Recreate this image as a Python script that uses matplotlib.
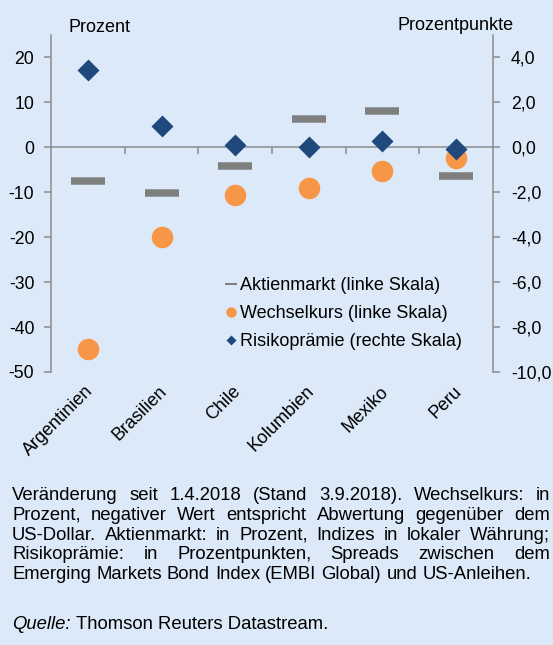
import matplotlib
matplotlib.use('Agg')
import matplotlib.pyplot as plt
from matplotlib.lines import Line2D
from matplotlib.ticker import FuncFormatter
from matplotlib.transforms import blended_transform_factory

# ---- data ----
countries = ['Argentinien', 'Brasilien', 'Chile', 'Kolumbien', 'Mexiko', 'Peru']
aktienmarkt = [-7.6, -10.1, -4.1, 6.4, 8.1, -6.4]          # left scale, %
wechselkurs = [-44.9, -19.9, -10.7, -9.0, -5.2, -2.4]      # left scale, %
risikopraemie = [3.45, 0.95, 0.10, 0.01, 0.27, -0.09]      # right scale, pp
left_ticks = [-50, -40, -30, -20, -10, 0, 10, 20]
right_ticks = [-10, -8, -6, -4, -2, 0, 2, 4]
legend_labels = ['Aktienmarkt (linke Skala)', 'Wechselkurs (linke Skala)',
                 'Risikoprämie (rechte Skala)']
foot_lines = [
    'Veränderung seit 1.4.2018 (Stand 3.9.2018). Wechselkurs: in',
    'Prozent, negativer Wert entspricht Abwertung gegenüber dem',
    'US-Dollar. Aktienmarkt: in Prozent, Indizes in lokaler Währung;',
    'Risikoprämie: in Prozentpunkten, Spreads zwischen dem',
    'Emerging Markets Bond Index (EMBI Global) und US-Anleihen.',
]
source_label = 'Quelle:'
source_text = 'Thomson Reuters Datastream.'

plt.rcParams['font.family'] = ['Liberation Sans', 'DejaVu Sans']
plt.rcParams['axes.unicode_minus'] = False

BG = '#DCE9F8'
GRAY = '#7F7F7F'
SPINE = '#8C8C8C'
ORANGE = '#F79646'
NAVY = '#1F497D'
W, H = 553, 645
FS = 13
FST = 12.7
FSN = 13.3

fig = plt.figure(figsize=(W / 100, H / 100), dpi=100, facecolor=BG)
ax = fig.add_axes([51 / W, 1 - 372 / H, (493 - 51) / W, (372 - 35) / H])
ax.set_facecolor(BG)
ax.set_xlim(-0.5, len(countries) - 0.5)
ax.set_ylim(-50, 25)
ax2 = ax.twinx()
ax2.set_ylim(-10, 5)

x = list(range(len(countries)))
ax.plot(x, aktienmarkt, ls='none', marker='_', ms=25, mew=5.4, color=GRAY, zorder=3)
ax.plot(x, wechselkurs, ls='none', marker='o', ms=15.5, mec='none', color=ORANGE, zorder=3)
ax2.plot(x, risikopraemie, ls='none', marker='D', ms=11.6, mec='none', color=NAVY, zorder=4)

# spines
for s in ['top', 'right']:
    ax.spines[s].set_visible(False)
for s in ['top', 'bottom', 'left']:
    ax2.spines[s].set_visible(False)
ax.spines['left'].set_color(SPINE)
ax2.spines['right'].set_color(SPINE)
ax.spines['bottom'].set_color(SPINE)
ax.spines['bottom'].set_position(('data', 0))
for sp in [ax.spines['left'], ax.spines['bottom'], ax2.spines['right']]:
    sp.set_linewidth(1.1)

ax.set_yticks(left_ticks)
ax.set_yticklabels([str(v) for v in left_ticks])
ax2.set_yticks(right_ticks)
ax2.yaxis.set_major_formatter(FuncFormatter(lambda v, p: f'{v:.1f}'.replace('.', ',')))
ax.tick_params(axis='y', direction='out', length=5, width=1.1, color=SPINE, pad=7, labelsize=FST)
ax2.tick_params(axis='y', direction='out', length=5, width=1.1, color=SPINE, pad=8, labelsize=FST)

ax.set_xticks([i + 0.5 for i in x[:-1]])
ax.set_xticklabels([])
ax.tick_params(axis='x', direction='out', length=5, width=1.1, color=SPINE)

trans = blended_transform_factory(ax.transData, ax.transAxes)
for i, c in enumerate(countries):
    ax.text(i + 0.04, -0.05, c, transform=trans, rotation=45, ha='right', va='center',
            rotation_mode='anchor', fontsize=FS)

fig.text(68 / W, 1 - 32 / H, 'Prozent', fontsize=FS, ha='left', va='baseline')
fig.text(514 / W, 1 - 30 / H, 'Prozentpunkte', fontsize=FS, ha='right', va='baseline')

handles = [
    Line2D([], [], ls='none', marker='_', ms=9, mew=1.5, color=GRAY),
    Line2D([], [], ls='none', marker='o', ms=7.5, mec='none', color=ORANGE),
    Line2D([], [], ls='none', marker='D', ms=5, mec='none', color=NAVY),
]
fig.legend(handles, legend_labels, loc='upper left', bbox_to_anchor=(226 / W, 1 - 277 / H),
           frameon=False, fontsize=FS, handlelength=0.6, handletextpad=0.2,
           labelspacing=0.62, borderpad=0, borderaxespad=0)

# footnote, justified
renderer = fig.canvas.get_renderer()
L, R = 12, 550
space_w = None
for k, line in enumerate(foot_lines):
    words = line.split(' ')
    yb = 1 - (500 + k * 19.8) / H
    texts = [fig.text(0, yb, wd, fontsize=FSN, ha='left', va='baseline') for wd in words]
    widths = [t.get_window_extent(renderer).width for t in texts]
    if space_w is None:
        t1 = fig.text(0, 0, 'a a', fontsize=FSN); t2 = fig.text(0, 0, 'aa', fontsize=FSN)
        space_w = t1.get_window_extent(renderer).width - t2.get_window_extent(renderer).width
        t1.remove(); t2.remove()
    if k < len(foot_lines) - 1:
        gap = (R - L - sum(widths)) / (len(words) - 1)
    else:
        gap = space_w
    xx = L
    for t, wd in zip(texts, widths):
        t.set_x(xx / W)
        xx += wd + gap

yq = 1 - 629 / H
tq = fig.text(L / W, yq, source_label, fontsize=FSN, style='italic', ha='left', va='baseline')
wq = tq.get_window_extent(renderer).width
fig.text((L + wq + space_w) / W, yq, source_text, fontsize=FSN, ha='left', va='baseline')

fig.savefig('out.png', dpi=100, facecolor=BG)
